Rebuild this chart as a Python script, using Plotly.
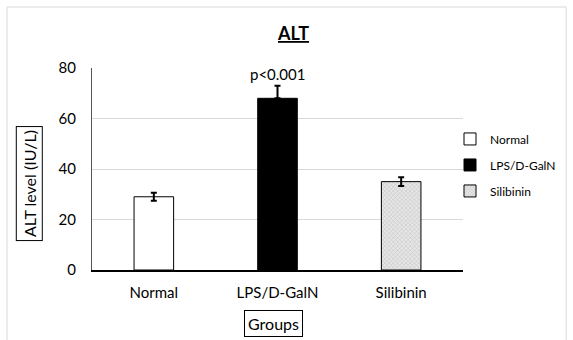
import plotly.graph_objects as go

groups = ["Normal", "LPS/D-GalN", "Silibinin"]
alt_values = [29, 68, 35]
err_plus = [1.6, 5.0, 1.7]
err_minus = [1.6, 0.0, 1.7]
y_ticks = [0, 20, 40, 60, 80]

FONT = "Lato, 'Open Sans', sans-serif"

fig = go.Figure()
fills = [
    dict(color="white"),
    dict(color="black"),
    dict(color="#d0d0d0", pattern=dict(shape="x", fgcolor="#9a9a9a", bgcolor="#e6e6e6", size=3, solidity=0.3)),
]
for i, (g, v, ep, em, f) in enumerate(zip(groups, alt_values, err_plus, err_minus, fills)):
    fig.add_trace(go.Bar(
        x=[g], y=[v], name=g, legendgroup=f"g{i}",
        marker=dict(line=dict(color="black", width=1), **f),
        width=0.32,
        error_y=dict(type="data", array=[ep], arrayminus=[em], symmetric=False,
                     color="black", thickness=2, width=3),
    ))

fig.add_annotation(x=groups[1], y=alt_values[1] + err_plus[1], text="p<0.001",
                   showarrow=False, yanchor="bottom", yshift=1,
                   font=dict(size=15, color="black", family=FONT))

fig.add_annotation(xref="paper", yref="paper", x=0.542, y=1.173, text="<b><u>ALT</u></b>",
                   xanchor="center", yanchor="middle",
                   showarrow=False, font=dict(size=18, color="black", family=FONT))

fig.add_annotation(xref="paper", yref="paper", x=-0.17, y=0.43, text="ALT level (IU/L)",
                   xanchor="center", yanchor="middle",
                   textangle=-90, showarrow=False, bordercolor="black", borderwidth=1, borderpad=3,
                   font=dict(size=16, color="black", family=FONT))

fig.add_annotation(xref="paper", yref="paper", x=0.488, y=-0.267, text="Groups",
                   xanchor="center", yanchor="middle",
                   showarrow=False, bordercolor="black", borderwidth=1, borderpad=3,
                   font=dict(size=16, color="black", family=FONT))

fig.add_shape(type="rect", xref="paper", yref="paper", x0=-0.229, x1=1.278, y0=-0.4, y1=1.302,
              line=dict(color="#d9d9d9", width=1), layer="below")

fig.update_layout(
    width=573, height=340,
    margin=dict(l=92, r=110, t=68, b=70, autoexpand=False),
    paper_bgcolor="white", plot_bgcolor="white",
    showlegend=True,
    legend=dict(x=0.965, y=0.52, xanchor="left", yanchor="middle",
                bgcolor="rgba(0,0,0,0)",
                font=dict(size=12, color="black", family=FONT),
                itemwidth=30, tracegroupgap=7),
    bargap=0.68,
    font=dict(family=FONT, color="black"),
)
fig.update_xaxes(showline=True, linecolor="black", linewidth=1.5, ticks="",
                 ticklabelstandoff=8,
                 tickfont=dict(size=15, color="black", family=FONT), showgrid=False)
fig.update_yaxes(range=[0, 80], tickvals=y_ticks, showline=True, linecolor="#555555", linewidth=1,
                 gridcolor="#d9d9d9", ticks="", zeroline=False, ticklabelstandoff=12,
                 tickfont=dict(size=15, color="black", family=FONT))

fig.write_html("out.html", config={"displayModeBar": False},
               post_script="document.body.style.margin='0';document.body.style.padding='0';")
